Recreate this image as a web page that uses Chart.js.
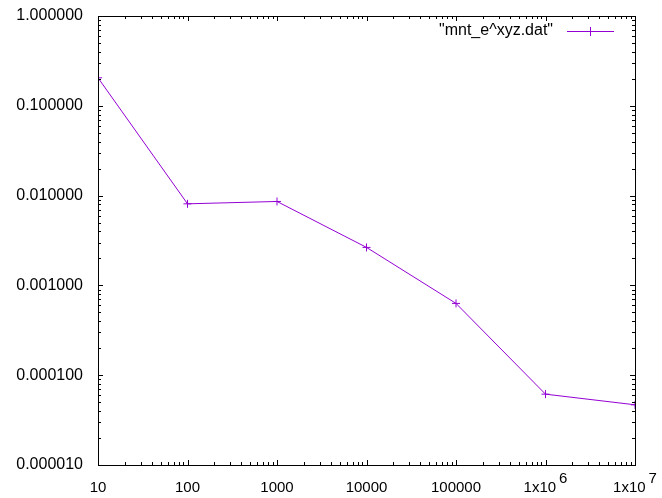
<!DOCTYPE html>
<html>
<head>
<meta charset="utf-8">
<script src="https://cdn.jsdelivr.net/npm/chart.js@4"></script>
<style>
  html, body { margin: 0; padding: 0; background: #fff; }
  #wrap { width: 662px; height: 498px; }
</style>
</head>
<body>
<div id="wrap"><canvas id="chart"></canvas></div>
<script>
// data
const xValues = [10, 100, 1000, 10000, 100000, 1000000, 10000000];
const yValues = [0.205, 0.0081, 0.0086, 0.00265, 0.00063, 0.0000615, 0.0000468];
const seriesLabel = '"mnt_e^xyz.dat"';

const xTicks = [10, 100, 1000, 10000, 100000, 1000000, 10000000];
const xTickLabels = [["10"], ["100"], ["1000"], ["10000"], ["100000"], ["1x10", "6"], ["1x10", "7"]];
const yTicks = [0.00001, 0.0001, 0.001, 0.01, 0.1, 1];
const yTickLabels = ["0.000010", "0.000100", "0.001000", "0.010000", "0.100000", "1.000000"];

const lineColor = "#9400d3";

// gnuplot style frame, inward ticks on all sides, tick labels and key
const gnuplotFrame = {
  id: "gnuplotFrame",
  afterDraw(chart) {
    const ctx = chart.ctx;
    const area = chart.chartArea;
    const xs = chart.scales.x;
    const ys = chart.scales.y;

    ctx.save();
    ctx.strokeStyle = "#000";
    ctx.lineWidth = 1;
    ctx.strokeRect(Math.round(area.left) + 0.5, Math.round(area.top) + 0.5,
      Math.round(area.right - area.left), Math.round(area.bottom - area.top));

    ctx.beginPath();
    for (let d = 1; d < 7; d++) {
      for (let m = 1; m <= 9; m++) {
        const v = Math.pow(10, d) * m;
        const px = Math.round(xs.getPixelForValue(v)) + 0.5;
        const len = m === 1 ? 5 : 3;
        ctx.moveTo(px, area.bottom); ctx.lineTo(px, area.bottom - len);
        ctx.moveTo(px, area.top); ctx.lineTo(px, area.top + len);
      }
    }
    for (let d = -5; d < 0; d++) {
      for (let m = 1; m <= 9; m++) {
        const v = Math.pow(10, d) * m;
        const py = Math.round(ys.getPixelForValue(v)) + 0.5;
        const len = m === 1 ? 5 : 3;
        ctx.moveTo(area.left, py); ctx.lineTo(area.left + len, py);
        ctx.moveTo(area.right, py); ctx.lineTo(area.right - len, py);
      }
    }
    ctx.stroke();

    ctx.fillStyle = "#000";

    // y tick labels
    ctx.font = "16px 'Liberation Sans', Arial, sans-serif";
    ctx.textAlign = "right";
    ctx.textBaseline = "middle";
    yTicks.forEach((v, i) => {
      ctx.fillText(yTickLabels[i], area.left - 15, ys.getPixelForValue(v));
    });

    // x tick labels with raised exponents
    ctx.font = "15px 'Liberation Sans', Arial, sans-serif";
    ctx.textBaseline = "alphabetic";
    ctx.textAlign = "left";
    xTicks.forEach((v, i) => {
      const px = xs.getPixelForValue(v);
      const parts = xTickLabels[i];
      const w0 = ctx.measureText(parts[0]).width;
      const w1 = parts[1] ? ctx.measureText(parts[1]).width + 3 : 0;
      const start = px - (w0 + w1) / 2;
      ctx.fillText(parts[0], start, area.bottom + 27);
      if (parts[1]) ctx.fillText(parts[1], start + w0 + 3, area.bottom + 18);
    });

    // key in the top right corner
    const ky = 31;
    ctx.textAlign = "right";
    ctx.textBaseline = "middle";
    ctx.font = "16px 'Liberation Sans', Arial, sans-serif";
    ctx.fillText(seriesLabel, 553, ky);
    ctx.strokeStyle = lineColor;
    ctx.beginPath();
    ctx.moveTo(567, ky + 0.5); ctx.lineTo(614, ky + 0.5);
    ctx.moveTo(590.5, ky - 4); ctx.lineTo(590.5, ky + 5);
    ctx.stroke();
    ctx.restore();
  }
};

new Chart(document.getElementById("chart"), {
  type: "line",
  data: {
    datasets: [{
      label: seriesLabel,
      data: xValues.map((x, i) => ({ x: x, y: yValues[i] })),
      borderColor: lineColor,
      backgroundColor: lineColor,
      borderWidth: 1,
      pointStyle: "cross",
      pointRadius: 4,
      pointBorderWidth: 1,
      fill: false,
      tension: 0
    }]
  },
  options: {
    responsive: true,
    maintainAspectRatio: false,
    animation: false,
    layout: { padding: { left: 0, right: 27, top: 16, bottom: 0 } },
    plugins: { legend: { display: false }, tooltip: { enabled: false } },
    scales: {
      x: {
        type: "logarithmic",
        min: 10,
        max: 10000000,
        grid: { display: false, drawTicks: false },
        border: { display: false },
        ticks: { display: false },
        afterFit: (s) => { s.height = 33; }
      },
      y: {
        type: "logarithmic",
        min: 0.00001,
        max: 1,
        grid: { display: false, drawTicks: false },
        border: { display: false },
        ticks: { display: false },
        afterFit: (s) => { s.width = 98; }
      }
    }
  },
  plugins: [gnuplotFrame]
});
</script>
</body>
</html>
